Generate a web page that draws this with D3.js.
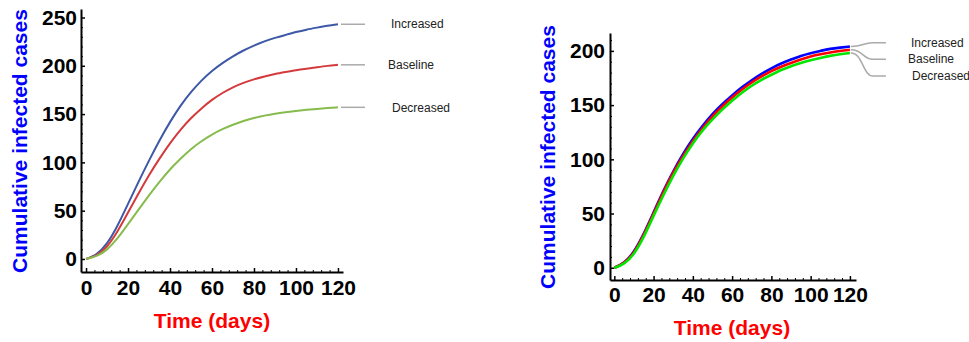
<!DOCTYPE html>
<html>
<head>
<meta charset="utf-8">
<script src="https://cdn.jsdelivr.net/npm/d3@7"></script>
<style>
  body { margin: 0; background: #fff; }
  svg { display: block; font-family: "Liberation Sans", Arial, sans-serif; }
</style>
</head>
<body>
<div id="chart"></div>
<script>
// data
const days = [0, 5, 10, 15, 20, 25, 30, 35, 40, 45, 50, 55, 60, 65, 70, 75, 80, 85, 90, 95, 100, 105, 110, 115, 120];
const seriesNames = ['Increased', 'Baseline', 'Decreased'];

// left panel
const leftIncreased = [0, 4, 15, 34, 57, 80, 102, 123, 142, 159, 173, 185, 195, 203, 210, 216, 221, 225.5, 229, 232, 235, 237.5, 239.5, 241.5, 243];
const leftBaseline  = [0, 3, 12, 28, 48, 68, 87, 104, 120, 134, 146, 156, 165, 172, 178, 182.5, 186, 189, 191.5, 193.5, 195.5, 197, 198.5, 200, 201];
const leftDecreased = [0, 2.5, 9, 21, 36, 51, 66, 80, 93, 104, 114, 122, 129, 134.5, 139, 143, 146, 148.5, 150.5, 152, 153.3, 154.4, 155.4, 156.3, 157];

// right panel
const rightIncreased = [0, 4, 14, 31, 51, 71, 89, 105, 119, 131, 142, 151, 159, 166.5, 173, 179, 184, 188.5, 192, 195.5, 198, 200, 202, 203, 204];
const rightBaseline  = [0, 4, 13, 30, 50, 70, 88, 103, 117, 129, 140, 149, 157, 164.5, 171, 176.5, 181.5, 185.5, 189, 192, 195, 197, 198.5, 200, 201];
const rightDecreased = [0, 3, 12, 28, 48, 67, 85, 101, 115, 127, 137, 146, 154, 161.5, 168, 173.5, 178, 182.5, 186, 189, 191.5, 193.5, 195.5, 197, 198];

const xTicks = [0, 20, 40, 60, 80, 100, 120];
const leftYTicks = [0, 50, 100, 150, 200, 250];
const rightYTicks = [0, 50, 100, 150, 200];

const xTitle = 'Time (days)';
const yTitle = 'Cumulative infected cases';

const svg = d3.select('#chart').append('svg')
  .attr('width', 969)
  .attr('height', 342);

function drawPanel(cfg) {
  const x = d3.scaleLinear().domain(cfg.xDomain).range(cfg.xRange);
  const y = d3.scaleLinear().domain(cfg.yDomain).range(cfg.yRange);
  const g = svg.append('g');

  const xMinor = d3.range(0, 121, 4).filter(d => d % 20 !== 0);
  const yMinor = d3.range(0, cfg.yMax + 1, 10).filter(d => d % 50 !== 0);

  // minor ticks
  g.append('g')
    .attr('transform', `translate(0,${cfg.yRange[0]})`)
    .call(d3.axisBottom(x).tickValues(xMinor).tickFormat('').tickSize(-2).tickSizeOuter(0))
    .call(a => a.select('.domain').remove());
  g.append('g')
    .attr('transform', `translate(${cfg.xRange[0]},0)`)
    .call(d3.axisLeft(y).tickValues(yMinor).tickFormat('').tickSize(-2).tickSizeOuter(0))
    .call(a => a.select('.domain').remove());

  // major ticks
  const xa = g.append('g')
    .attr('transform', `translate(0,${cfg.yRange[0]})`)
    .call(d3.axisBottom(x).tickValues(xTicks).tickSize(-4).tickSizeOuter(0).tickPadding(cfg.xPad));
  const ya = g.append('g')
    .attr('transform', `translate(${cfg.xRange[0]},0)`)
    .call(d3.axisLeft(y).tickValues(cfg.yTicks).tickSize(-4).tickSizeOuter(0).tickPadding(cfg.yPad));

  [xa, ya].forEach(a => {
    a.select('.domain').attr('stroke-width', 2);
    a.selectAll('.tick line').attr('stroke-width', 1.5);
    a.selectAll('text')
      .attr('font-family', '"Liberation Sans", Arial, sans-serif')
      .attr('font-size', 21)
      .attr('font-weight', 'bold')
      .attr('fill', '#000');
  });
  g.selectAll('.tick line').attr('stroke', '#000');

  // titles
  g.append('text')
    .attr('transform', `translate(${cfg.yTitleX},${cfg.yTitleY}) rotate(-90)`)
    .attr('text-anchor', 'middle')
    .attr('font-size', 21)
    .attr('font-weight', 'bold')
    .attr('fill', '#0000ff')
    .text(yTitle);
  g.append('text')
    .attr('x', cfg.xTitleX)
    .attr('y', cfg.xTitleY)
    .attr('text-anchor', 'middle')
    .attr('font-size', 21)
    .attr('font-weight', 'bold')
    .attr('fill', '#ff0000')
    .text(xTitle);

  // curves
  const line = d3.line()
    .x((d, i) => x(days[i]))
    .y(d => y(d))
    .curve(d3.curveBasis);

  cfg.series.forEach((s, k) => {
    g.append('path')
      .datum(s)
      .attr('fill', 'none')
      .attr('stroke', cfg.colors[k])
      .attr('stroke-width', cfg.lineWidth)
      .attr('d', line);
  });

  // labels with grey leader lines
  cfg.series.forEach((s, k) => {
    const x0 = x(120) + 1;
    const y0 = y(s[s.length - 1]);
    const y1 = y(cfg.labelValues[k]);
    const xe = x0 + cfg.leaderLen;
    let d;
    if (cfg.bend) {
      const xm = x0 + 22;
      d = `M${x0},${y0} C${x0 + 12},${y0} ${xm - 10},${y1} ${xm},${y1} L${xe},${y1}`;
    } else {
      d = `M${x0 + 2},${y0} L${xe},${y1}`;
    }
    g.append('path')
      .attr('d', d)
      .attr('fill', 'none')
      .attr('stroke', '#aaaaaa')
      .attr('stroke-width', 1.5);
    g.append('text')
      .attr('x', cfg.labelX[k])
      .attr('y', y1)
      .attr('dy', '0.35em')
      .attr('font-size', 12)
      .attr('fill', '#222')
      .text(seriesNames[k]);
  });
}

drawPanel({
  series: [leftIncreased, leftBaseline, leftDecreased],
  colors: ['#3d58a6', '#d43a3c', '#86bc4e'],
  lineWidth: 2,
  xDomain: [-2.4, 122.4], xRange: [81, 343],
  yDomain: [-13.5, 258.8], yRange: [272, 9],
  yTicks: leftYTicks, yMax: 250,
  xPad: 8, yPad: 4,
  yTitleX: 27, yTitleY: 141,
  xTitleX: 212, xTitleY: 328,
  labelValues: [243, 201, 157],
  labelX: [391, 388, 392],
  leaderLen: 26, bend: false
});

drawPanel({
  series: [rightIncreased, rightBaseline, rightDecreased],
  colors: ['#0000ff', '#ff0000', '#00e600'],
  lineWidth: 2.6,
  xDomain: [-2.2, 123.1], xRange: [610, 856],
  yDomain: [-11.3, 216.5], yRange: [280, 33],
  yTicks: rightYTicks, yMax: 210,
  xPad: 7, yPad: 5,
  yTitleX: 555, yTitleY: 157,
  xTitleX: 732, xTitleY: 335,
  labelValues: [207.6, 192.3, 176.8],
  labelX: [911, 908, 912],
  leaderLen: 35, bend: true
});
</script>
</body>
</html>
